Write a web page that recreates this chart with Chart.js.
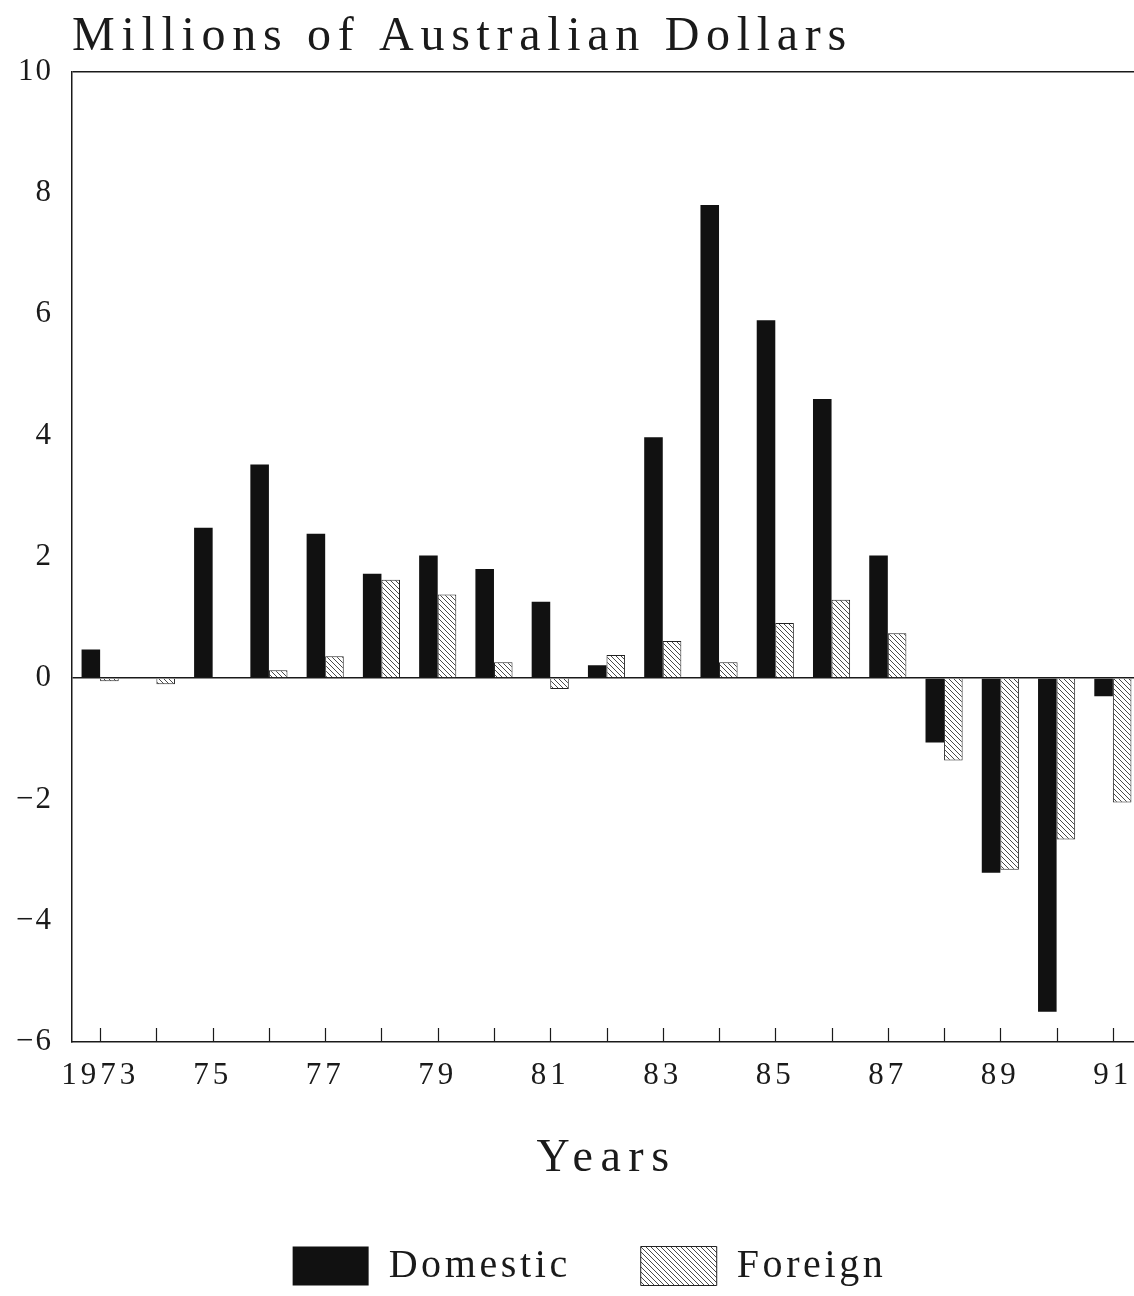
<!DOCTYPE html>
<html>
<head>
<meta charset="utf-8">
<script src="https://cdn.jsdelivr.net/npm/chart.js@4.4.1/dist/chart.umd.min.js"></script>
<style>
  html, body { margin: 0; padding: 0; background: #fff; overflow: hidden; }
  #wrap { position: relative; width: 1146px; height: 1296px; }
</style>
</head>
<body>
<div id="wrap"><canvas id="c"></canvas></div>
<script>
const years = ['1973','1974','1975','1976','1977','1978','1979','1980','1981','1982',
               '1983','1984','1985','1986','1987','1988','1989','1990','1991'];
const tickLabels = ['1973','','75','','77','','79','','81','','83','','85','','87','','89','','91'];
const domestic = [0.47, 0, 2.48, 3.52, 2.38, 1.72, 2.02, 1.8, 1.26, 0.21,
                  3.97, 7.8, 5.9, 4.6, 2.02, -1.06, -3.21, -5.5, -0.3];
const foreign  = [-0.05, -0.1, 0, 0.13, 0.36, 1.62, 1.38, 0.26, -0.18, 0.38,
                  0.61, 0.26, 0.91, 1.29, 0.74, -1.36, -3.16, -2.66, -2.05];
const titleText = 'Millions of Australian Dollars';
const xTitle = 'Years';
const seriesNames = ['Domestic', 'Foreign'];

const FONT = "'Liberation Serif', 'DejaVu Serif', serif";
const INK = '#1a1a1a';

function makeHatch() {
  const s = 5;
  const c = document.createElement('canvas');
  c.width = s; c.height = s;
  const g = c.getContext('2d');
  g.fillStyle = '#fff';
  g.fillRect(0, 0, s, s);
  g.strokeStyle = '#4a4a4a';
  g.lineWidth = 1;
  g.beginPath();
  g.moveTo(0, 0); g.lineTo(s, s);
  g.moveTo(-1, s - 1); g.lineTo(1, s + 1);
  g.moveTo(s - 1, -1); g.lineTo(s + 1, 1);
  g.stroke();
  return g.createPattern(c, 'repeat');
}
const hatch = makeHatch();

function wrap(obj, name, sp, dx) {
  if (!obj || obj['_wrapped_' + name]) return;
  const orig = obj[name];
  obj[name] = function (...a) {
    const c = this.ctx;
    const prev = c.letterSpacing;
    c.letterSpacing = sp;
    if (dx) { c.save(); c.translate(dx, 0); }
    const r = orig.apply(this, a);
    if (dx) { c.restore(); }
    c.letterSpacing = prev;
    return r;
  };
  obj['_wrapped_' + name] = true;
}

const spacingPlugin = {
  id: 'spacing',
  beforeLayout(chart) {
    wrap(chart.legend, 'fit', '3.6px');
    wrap(chart.legend, 'draw', '3.6px', 19);
    wrap(chart.titleBlock, 'draw', '6.7px');
    const x = chart.scales.x, y = chart.scales.y;
    wrap(x, 'drawTitle', '7.5px');
    wrap(x, 'drawLabels', '4px');
    wrap(y, 'drawLabels', '2px');
  }
};

const tickMarks = {
  id: 'tickMarks',
  afterDatasetsDraw(chart) {
    const x = chart.scales.x;
    const ctx = chart.ctx;
    const b = chart.chartArea.bottom;
    ctx.save();
    ctx.strokeStyle = INK;
    ctx.lineWidth = 1.2;
    ctx.beginPath();
    for (let i = 0; i < x.ticks.length; i++) {
      const px = Math.round(x.getPixelForTick(i)) + 0.5;
      ctx.moveTo(px, b);
      ctx.lineTo(px, b - 14);
    }
    ctx.stroke();
    ctx.restore();
  }
};

new Chart(document.getElementById('c'), {
  type: 'bar',
  data: {
    labels: years,
    datasets: [
      { label: seriesNames[0], data: domestic, backgroundColor: '#111', borderColor: '#111', borderWidth: 0 },
      { label: seriesNames[1], data: foreign, backgroundColor: hatch, borderColor: '#222', borderWidth: 1 }
    ]
  },
  options: {
    responsive: true,
    maintainAspectRatio: false,
    animation: false,
    layout: { padding: { left: 0, right: 5, top: 0, bottom: 0 } },
    datasets: { bar: { categoryPercentage: 0.66, barPercentage: 1.0 } },
    plugins: {
      tooltip: { enabled: false },
      title: {
        display: true, text: titleText, align: 'start', fullSize: false,
        color: INK, font: { family: FONT, size: 48, weight: 'normal' },
        padding: { top: 9, bottom: 5 }
      },
      legend: {
        display: true, position: 'bottom',
        labels: {
          color: INK, font: { family: FONT, size: 40 },
          boxWidth: 76, boxHeight: 39, padding: 70
        }
      }
    },
    scales: {
      x: {
        offset: true,
        grid: { display: true, drawOnChartArea: false, drawTicks: false, color: 'rgba(0,0,0,0)' },
        border: { display: true, color: INK, width: 1.5 },
        ticks: {
          autoSkip: false, maxRotation: 0, minRotation: 0, padding: 15,
          color: INK, font: { family: FONT, size: 31 },
          callback: (v, i) => tickLabels[i]
        },
        title: {
          display: true, text: xTitle, color: INK,
          font: { family: FONT, size: 46 }, padding: { top: 0, bottom: -11 }
        },
        afterFit: (s) => { s.height = 1296 - 1042 - (s.chart.legend ? s.chart.legend.height : 0); }
      },
      y: {
        min: -6, max: 10,
        ticks: {
          stepSize: 2, padding: 19, color: INK,
          font: { family: FONT, size: 31 },
          callback: (v) => String(v).replace('-', '\u2212')
        },
        grid: {
          drawTicks: false,
          color: (c) => (c.tick && (c.tick.value === 0 || c.tick.value === 10)) ? INK : 'rgba(0,0,0,0)',
          lineWidth: 1.5
        },
        border: { display: true, color: INK, width: 1.5 },
        afterFit: (s) => { s.width = 72; }
      }
    }
  },
  plugins: [spacingPlugin, tickMarks]
});
</script>
</body>
</html>
